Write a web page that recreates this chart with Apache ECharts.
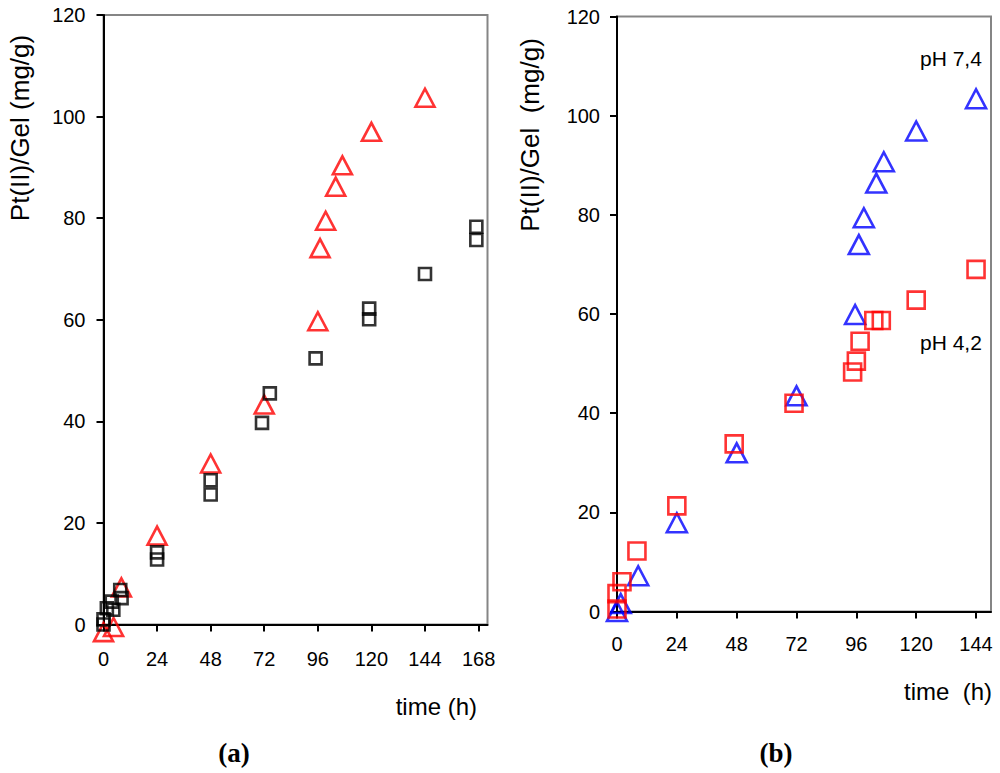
<!DOCTYPE html>
<html>
<head>
<meta charset="utf-8">
<title>Pt(II)/Gel vs time</title>
<script src="https://cdn.jsdelivr.net/npm/echarts@6/dist/echarts.min.js"></script>
<style>
  html, body { margin: 0; padding: 0; background: #fff; }
  #chart { width: 1000px; height: 773px; }
</style>
</head>
<body>
<div id="chart"></div>
<script>
// panel (a): red triangles and black squares
const timeA_tri = [0, 4.5, 8, 24, 48, 72, 96, 97, 99.5, 104, 107, 120, 144];
const ptA_tri   = [-1.5, -0.5, 7.3, 17.5, 31.7, 43.3, 59.7, 74.1, 79.5, 86.2, 90.4, 97, 103.7];

const timeA_sq = [0, 0, 1.5, 3.7, 4.4, 7.5, 8.1, 24, 24, 48, 48, 71, 74.5, 95, 119, 119, 144, 167, 167];
const ptA_sq   = [0, 1, 3.2, 4.5, 2.9, 6.8, 5.2, 14.2, 12.8, 28.4, 25.6, 39.7, 45.5, 52.4, 62.2, 60.1, 69, 78.3, 75.7];

// panel (b): blue triangles (pH 7,4) and red squares (pH 4,2)
const timeB_tri = [0, 1.5, 8.5, 24, 48, 72, 95.5, 97, 99, 104, 107, 120, 144];
const ptB_tri   = [0, 1.6, 7.2, 17.9, 32, 43.5, 59.9, 74, 79.4, 86.4, 90.7, 96.9, 103.4];

const timeB_sq = [0, 0, 2, 8, 24, 47, 71, 94.5, 96, 97.5, 103, 106, 120, 144];
const ptB_sq   = [0.5, 3.6, 6, 12.2, 21.3, 33.8, 42, 48.3, 50.5, 54.5, 58.7, 58.7, 62.8, 69];

const xTicksA = [0, 24, 48, 72, 96, 120, 144, 168];
const xTicksB = [0, 24, 48, 72, 96, 120, 144];

const sans = '"Liberation Sans", Arial, sans-serif';

function pairs(xs, ys) {
  return xs.map((x, i) => [x, ys[i]]);
}

function xAxis(idx, max, ticks, margin) {
  return {
    type: 'value', gridIndex: idx, min: 0, max: max, interval: 24,
    axisLine: { show: true, onZero: false, lineStyle: { color: '#000', width: 2 } },
    axisTick: { show: true, length: 7, customValues: ticks, lineStyle: { color: '#000', width: 2 } },
    axisLabel: { showMaxLabel: false, color: '#000', fontSize: 20, fontFamily: sans, margin: margin },
    splitLine: { show: false }
  };
}

function yAxis(idx, margin) {
  return {
    type: 'value', gridIndex: idx, min: 0, max: 120, interval: 20,
    axisLine: { show: true, onZero: false, lineStyle: { color: '#000', width: 2 } },
    axisTick: { show: true, length: 7, lineStyle: { color: '#000', width: 2 } },
    axisLabel: { color: '#000', fontSize: 20, fontFamily: sans, margin: margin },
    splitLine: { show: false }
  };
}

function marks(idx, data, symbol, size, color) {
  return {
    type: 'scatter', xAxisIndex: idx, yAxisIndex: idx,
    data: data, symbol: symbol, symbolSize: size, clip: false, silent: true,
    itemStyle: { color: 'rgba(0,0,0,0)', borderColor: color, borderWidth: 2.6 }
  };
}

function label(text, x, y, font, align, rotate) {
  return {
    type: 'text', x: x, y: y, rotation: rotate ? Math.PI / 2 : 0,
    style: { text: text, font: font, fill: '#000', align: align || 'center', verticalAlign: 'middle' }
  };
}

const chart = echarts.init(document.getElementById('chart'), null, { renderer: 'svg', width: 1000, height: 773 });

chart.setOption({
  animation: false,
  grid: [
    { left: 103.5, top: 15, width: 384, height: 609.5, show: true, borderColor: '#858585', borderWidth: 2 },
    { left: 617, top: 16.5, width: 374, height: 595, show: true, borderColor: '#858585', borderWidth: 2 }
  ],
  xAxis: [xAxis(0, 172, xTicksA, 24), xAxis(1, 150, xTicksB, 22)],
  yAxis: [yAxis(0, 18), yAxis(1, 17)],
  series: [
    marks(0, pairs(timeA_tri, ptA_tri), 'triangle', [19, 18], '#ff0000'),
    marks(0, pairs(timeA_sq, ptA_sq), 'rect', 12, '#000000'),
    marks(1, pairs(timeB_tri, ptB_tri), 'triangle', [20, 19], '#0000ff'),
    marks(1, pairs(timeB_sq, ptB_sq), 'rect', 17, '#ff0000')
  ],
  graphic: [
    label('Pt(II)/Gel (mg/g)', 20, 128, '26px ' + sans, 'center', true),
    label('Pt(II)/Gel  (mg/g)', 530, 135, '26px ' + sans, 'center', true),
    label('time (h)', 477, 706, '24px ' + sans, 'right'),
    label('time  (h)', 992, 691, '24px ' + sans, 'right'),
    label('pH 7,4', 920, 58, '21px ' + sans, 'left'),
    label('pH 4,2', 920, 342, '21px ' + sans, 'left'),
    label('(a)', 234, 753, 'bold 27px "Liberation Serif", "Times New Roman", serif'),
    label('(b)', 776, 753, 'bold 27px "Liberation Serif", "Times New Roman", serif')
  ]
});
</script>
</body>
</html>
